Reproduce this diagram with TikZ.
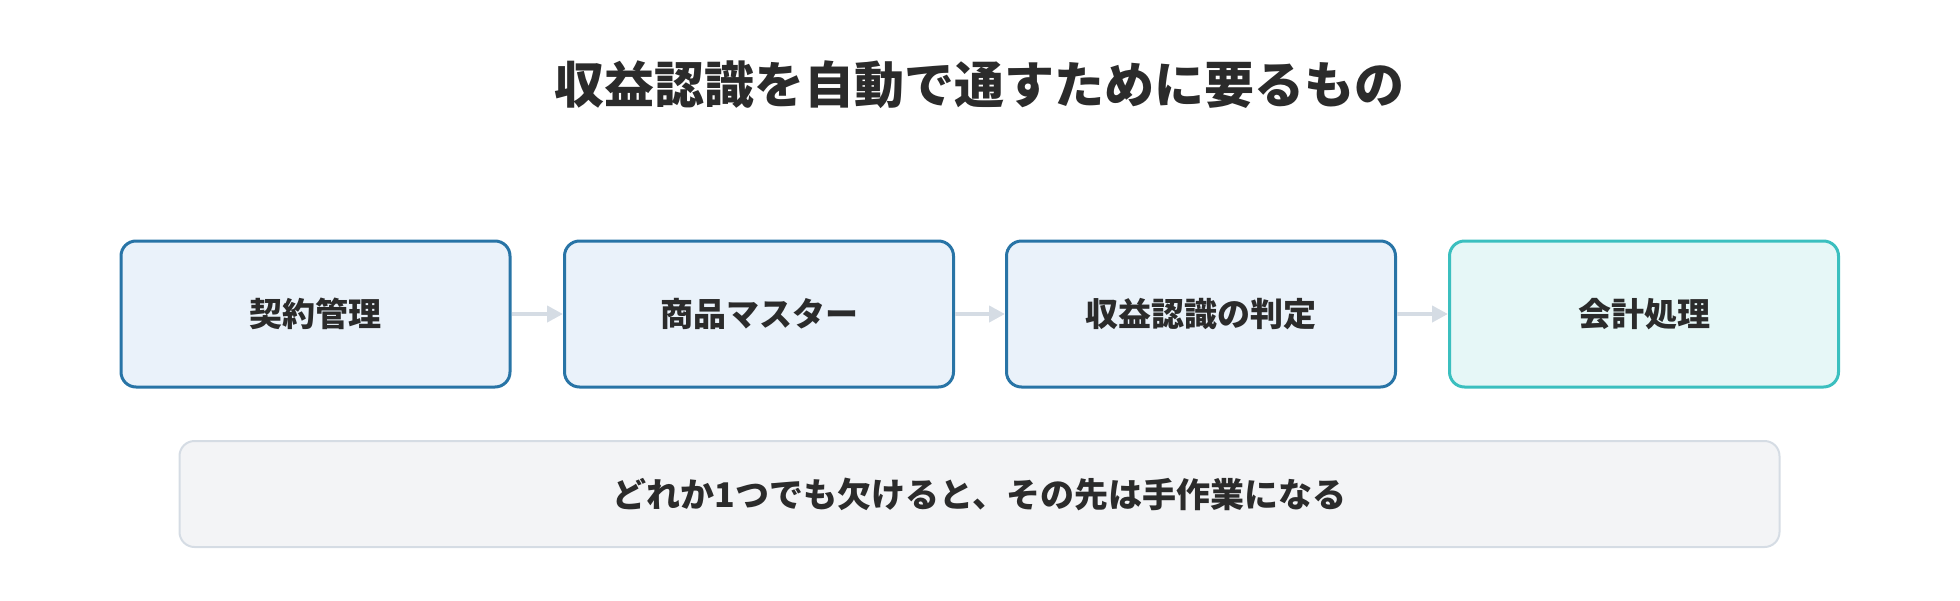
\documentclass[tikz,border=0pt]{standalone}
\usepackage{fontspec}
\setmainfont{Noto Sans CJK JP}
\usetikzlibrary{arrows.meta}

\definecolor{stepline}{HTML}{2874A6}
\definecolor{stepfill}{HTML}{EAF2FA}
\definecolor{lastline}{HTML}{3BBFBF}
\definecolor{lastfill}{HTML}{E6F7F7}
\definecolor{notefill}{HTML}{F3F4F6}
\definecolor{noteline}{HTML}{D5DCE4}
\definecolor{inktext}{HTML}{2B2B2B}

\begin{document}
\begin{tikzpicture}[x=0.5pt,y=-0.5pt,
  stepbox/.style={draw=stepline, fill=stepfill, line width=1.5pt,
    rounded corners=7.5pt, minimum width=194.5pt, minimum height=73pt,
    font=\bfseries\fontsize{16.5}{20}\selectfont, text=inktext},
  lastbox/.style={stepbox, draw=lastline, fill=lastfill},
  notebox/.style={draw=noteline, fill=notefill, line width=1pt,
    rounded corners=7.5pt, minimum width=800pt, minimum height=53pt,
    font=\bfseries\fontsize{17}{20}\selectfont, text=inktext},
  flow/.style={draw=noteline, line width=2pt,
    -{Triangle[length=8pt,width=8pt]}}]
  \useasboundingbox (0,0) rectangle (1960,600);

  \node[font=\bfseries\fontsize{25}{30}\selectfont, text=inktext]
  (title) at (979,85) {収益認識を自動で通すために要るもの};

  \node[stepbox] (contract) at (315.5,314) {契約管理};
  \node[stepbox] (product) at (759,314) {商品マスター};
  \node[stepbox] (revenue) at (1201,314) {収益認識の判定};
  \node[lastbox] (account) at (1644,314) {会計処理};

  \draw[flow] (contract) -- (product);
  \draw[flow] (product) -- (revenue);
  \draw[flow] (revenue) -- (account);

  \node[notebox] (note) at (979.5,494)
  {どれか1つでも欠けると、その先は手作業になる};
\end{tikzpicture}
\end{document}
